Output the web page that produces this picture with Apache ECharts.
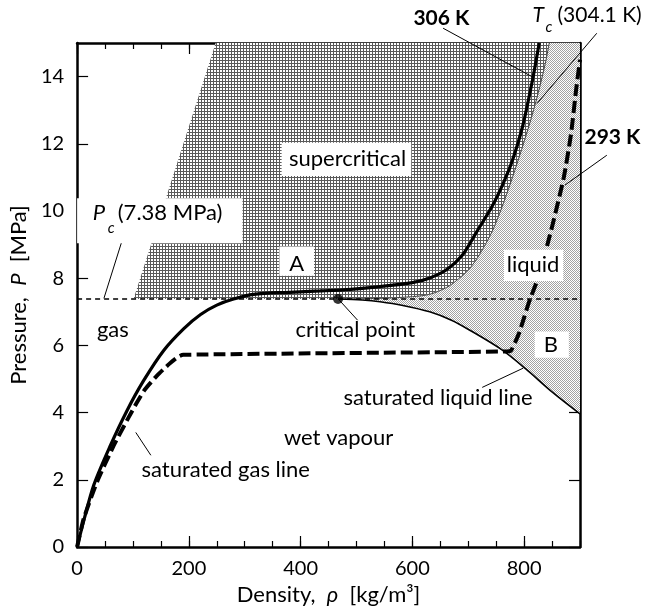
<!DOCTYPE html>
<html><head><meta charset="utf-8">
<script src="https://cdn.jsdelivr.net/npm/echarts@6/dist/echarts.min.js"></script>
<style>html,body{margin:0;padding:0;background:#fff}#c{width:646px;height:614px}</style>
</head><body><div id="c"></div>
<script>
// ---------- data ----------
const xTickLabels = ['0', '200', '400', '600', '800'];
const yTickLabels = ['0', '2', '4', '6', '8', '10', '12', '14'];
const criticalPressure = 7.38;
const criticalPoint = [467, 7.38];
const isotherm306K = [[0,0],[13,0.85],[30,1.85],[59,3.0],[89,4.05],[119,4.95],[155,5.85],[191,6.5],[221,6.92],[250,7.2],[280,7.38],[316,7.52],[380,7.58],[435,7.62],[490,7.67],[542,7.75],[600,7.87],[630,8.0],[661,8.25],[690,8.7],[714,9.35],[743,10.15],[762,10.8],[779,11.5],[797,12.5],[815,13.9],[827,15]];
const isotherm293K = [[0,0],[12,0.85],[36,1.95],[65,3.0],[92,3.85],[107,4.3],[121,4.68],[143,5.1],[165,5.45],[180,5.65],[190,5.72],[770,5.82],[777,5.86],[791,6.37],[809,7.3],[827,8.1],[851,9.6],[871,11.0],[884,12.3],[893,13.6],[900,14.5]];
const isothermTc = [[467,7.38],[540,7.4],[600,7.45],[631,7.52],[661,7.72],[679,7.93],[702,8.28],[720,8.7],[743,9.4],[760,10.1],[775,10.8],[791,11.6],[809,12.55],[825,13.5],[838,14.4],[845,15]];
const saturatedLiquid = [[467,7.38],[510,7.35],[542,7.3],[583,7.19],[631,7.0],[670,6.75],[702,6.46],[761,5.86],[803,5.3],[851,4.6],[900,3.96]];
const supercriticalLeftEdge = [[101,7.38],[248,15]];
const axisMax = {x: 900, y: 15};

// ---------- helpers ----------
const FONT = 'Lato, "Liberation Sans", sans-serif';
const FS = 20;      // tick labels
const FA = 22;      // annotations and axis names
const FK = 21;      // temperature labels
function makePattern(kind) {
  const c = document.createElement('canvas');
  if (kind === 'grid') {
    c.width = 3; c.height = 3;
    const ctx = c.getContext('2d');
    ctx.fillStyle = '#fff'; ctx.fillRect(0, 0, 3, 3);
    ctx.fillStyle = '#5a5a5a';
    ctx.fillRect(0, 0, 3, 1); ctx.fillRect(0, 0, 1, 3);
  } else {
    c.width = 2; c.height = 2;
    const ctx = c.getContext('2d');
    ctx.fillStyle = '#fff'; ctx.fillRect(0, 0, 2, 2);
    ctx.fillStyle = '#a2a2a2';
    ctx.fillRect(0, 0, 1, 1); ctx.fillRect(1, 1, 1, 1);
  }
  return c;
}
const gridPat = makePattern('grid');
const diagPat = makePattern('diag');

const liquidPoly = isothermTc.concat([[axisMax.x, axisMax.y], [axisMax.x, saturatedLiquid[saturatedLiquid.length-1][1]]], saturatedLiquid.slice().reverse());
const superPoly = supercriticalLeftEdge.concat(isothermTc.slice().reverse());

function polySeries(poly, pat, z) {
  return {
    type: 'custom', z: z, silent: true, clip: true,
    data: [[0, 0]],
    renderItem: (params, api) => ({
      type: 'polygon',
      shape: { points: poly.map(p => api.coord(p)), smooth: 0 },
      style: { fill: { image: pat, repeat: 'repeat' }, stroke: null }
    })
  };
}

const chart = echarts.init(document.getElementById('c'));
const baseAxis = {
  type: 'value', min: 0, splitLine: { show: false },
  axisLine: { onZero: false, lineStyle: { color: '#000', width: 2.5 } },
  axisTick: { inside: true, lineStyle: { color: '#000', width: 1.2 } }
};
const labelStyle = { color: '#000', fontSize: FS, fontFamily: FONT };
const nameStyle = { color: '#000', fontSize: FA, fontFamily: FONT,
  rich: { i: { fontStyle: 'italic', fontSize: FA, fontFamily: FONT } } };

chart.setOption({
  animation: false,
  grid: { left: 76, top: 43, width: 504, height: 504, show: false },
  xAxis: [
    Object.assign({}, baseAxis, { max: axisMax.x, interval: 200, position: 'bottom',
      axisTick: Object.assign({}, baseAxis.axisTick, { length: 11 }),
      axisLabel: Object.assign({ margin: 12, showMaxLabel: false,
        formatter: v => xTickLabels.includes(String(v)) ? String(v) : '' }, labelStyle),
      name: 'Density,  {i|ρ}  [kg/m³]', nameLocation: 'middle', nameGap: 37, nameTextStyle: nameStyle }),
    Object.assign({}, baseAxis, { max: axisMax.x, interval: 50, position: 'bottom',
      axisLine: { show: false, onZero: false }, axisTick: Object.assign({}, baseAxis.axisTick, { length: 6 }),
      axisLabel: { show: false } }),
    Object.assign({}, baseAxis, { max: axisMax.x, interval: 200, position: 'top',
      axisTick: Object.assign({}, baseAxis.axisTick, { length: 11 }), axisLabel: { show: false } }),
    Object.assign({}, baseAxis, { max: axisMax.x, interval: 50, position: 'top',
      axisLine: { show: false, onZero: false }, axisTick: Object.assign({}, baseAxis.axisTick, { length: 6 }),
      axisLabel: { show: false } })
  ],
  yAxis: [
    Object.assign({}, baseAxis, { max: axisMax.y, interval: 2, position: 'left',
      axisTick: Object.assign({}, baseAxis.axisTick, { length: 11 }),
      axisLabel: Object.assign({ margin: 13, showMaxLabel: false,
        formatter: v => yTickLabels.includes(String(v)) ? String(v) : '' }, labelStyle),
      name: 'Pressure,  {i|P}  [MPa]', nameLocation: 'middle', nameGap: 47, nameTextStyle: nameStyle }),
    Object.assign({}, baseAxis, { max: axisMax.y, interval: 2, position: 'right',
      axisTick: Object.assign({}, baseAxis.axisTick, { length: 11 }), axisLabel: { show: false } })
  ],
  series: [
    polySeries(liquidPoly, diagPat, 1),
    polySeries(superPoly, gridPat, 2),
    { type: 'line', z: 3, data: isothermTc, showSymbol: false, smooth: 0.3,
      lineStyle: { color: '#444', width: 1 } },
    { type: 'line', z: 4, data: saturatedLiquid, showSymbol: false, smooth: 0.3,
      lineStyle: { color: '#000', width: 1.6 } },
    { type: 'line', z: 5, data: [[0, criticalPressure], [axisMax.x, criticalPressure]], showSymbol: false,
      lineStyle: { color: '#000', width: 1.6, type: [5, 4] } },
    { type: 'line', z: 6, data: isotherm306K, showSymbol: false, smooth: 0.3,
      lineStyle: { color: '#000', width: 3.2 } },
    { type: 'line', z: 6, data: isotherm293K, showSymbol: false, smooth: 0.2,
      lineStyle: { color: '#000', width: 4, type: [12, 5] } },
    { type: 'scatter', z: 7, data: [criticalPoint], symbolSize: 10, itemStyle: { color: '#000' } }
  ]
});

// ---------- annotations (anchored in data coordinates) ----------
const boxes = [
  [[366, 11.04], [598, 12.03]],
  [[0, 9.04], [296, 10.38]],
  [[362, 8.07], [424, 8.94]],
  [[764, 7.92], [870, 8.85]],
  [[819, 5.63], [880, 6.41]]
];
const labels = [
  { t: 'supercritical', at: [484, 11.54] },
  { t: 'A', at: [393, 8.44] },
  { t: 'liquid', at: [816, 8.41] },
  { t: 'B', at: [848, 6.0] },
  { t: 'gas', at: [64, 6.45] },
  { t: 'critical point', at: [498, 6.45] },
  { t: 'saturated liquid line', at: [646, 4.43] },
  { t: 'wet vapour', at: [468, 3.24] },
  { t: 'saturated gas line', at: [266, 2.28] },
  { t: '306 K', at: [652, 15.75], bold: true, size: FK },
  { t: '293 K', at: [908, 12.19], bold: true, align: 'left', size: FK }
];
const leaders = [
  [[655, 15.44], [816, 13.98]],
  [[930, 15.29], [823, 13.2]],
  [[948, 11.66], [873, 10.77]],
  [[79, 9.04], [48, 7.40]],
  [[468, 7.37], [502, 6.75]],
  [[798, 5.32], [725, 4.75]],
  [[105, 3.41], [132, 2.73]]
];
const subLabels = [
  { main: 'T', sub: 'c', rest: '(304.1 K)', at: [815, 15.82], subDx: 13, subDy: 12, restDx: 25, size: FK },
  { main: 'P', sub: 'c', rest: '(7.38 MPa)', at: [28, 9.93], subDx: 15, subDy: 15, restDx: 25, size: FA }
];

const px = p => chart.convertToPixel({ xAxisIndex: 0, yAxisIndex: 0 }, p);
const g = [];
boxes.forEach(b => {
  const a = px(b[0]), c = px(b[1]);
  g.push({ type: 'rect', z: 100, shape: { x: Math.min(a[0], c[0]), y: Math.min(a[1], c[1]), width: Math.abs(c[0] - a[0]), height: Math.abs(c[1] - a[1]) }, style: { fill: '#fff' } });
});
leaders.forEach(l => {
  const a = px(l[0]), c = px(l[1]);
  g.push({ type: 'line', z: 101, shape: { x1: a[0], y1: a[1], x2: c[0], y2: c[1] }, style: { stroke: '#000', lineWidth: 1 } });
});
labels.forEach(l => {
  const p = px(l.at);
  g.push({ type: 'text', z: 102, x: p[0], y: p[1], style: { text: l.t, fill: '#000', font: (l.bold ? 'bold ' : '') + (l.size || FA) + 'px ' + FONT, align: l.align || 'center', verticalAlign: 'middle' } });
});
subLabels.forEach(s => {
  const p = px(s.at);
  g.push({ type: 'text', z: 102, x: p[0], y: p[1], style: { text: s.main, fill: '#000', font: 'italic ' + s.size + 'px ' + FONT, align: 'left', verticalAlign: 'middle' } });
  g.push({ type: 'text', z: 102, x: p[0] + s.subDx, y: p[1] + s.subDy, style: { text: s.sub, fill: '#000', font: 'italic 15px ' + FONT, align: 'left', verticalAlign: 'middle' } });
  g.push({ type: 'text', z: 102, x: p[0] + s.restDx, y: p[1], style: { text: s.rest, fill: '#000', font: s.size + 'px ' + FONT, align: 'left', verticalAlign: 'middle' } });
});
chart.setOption({ graphic: { elements: g } });
</script></body></html>
